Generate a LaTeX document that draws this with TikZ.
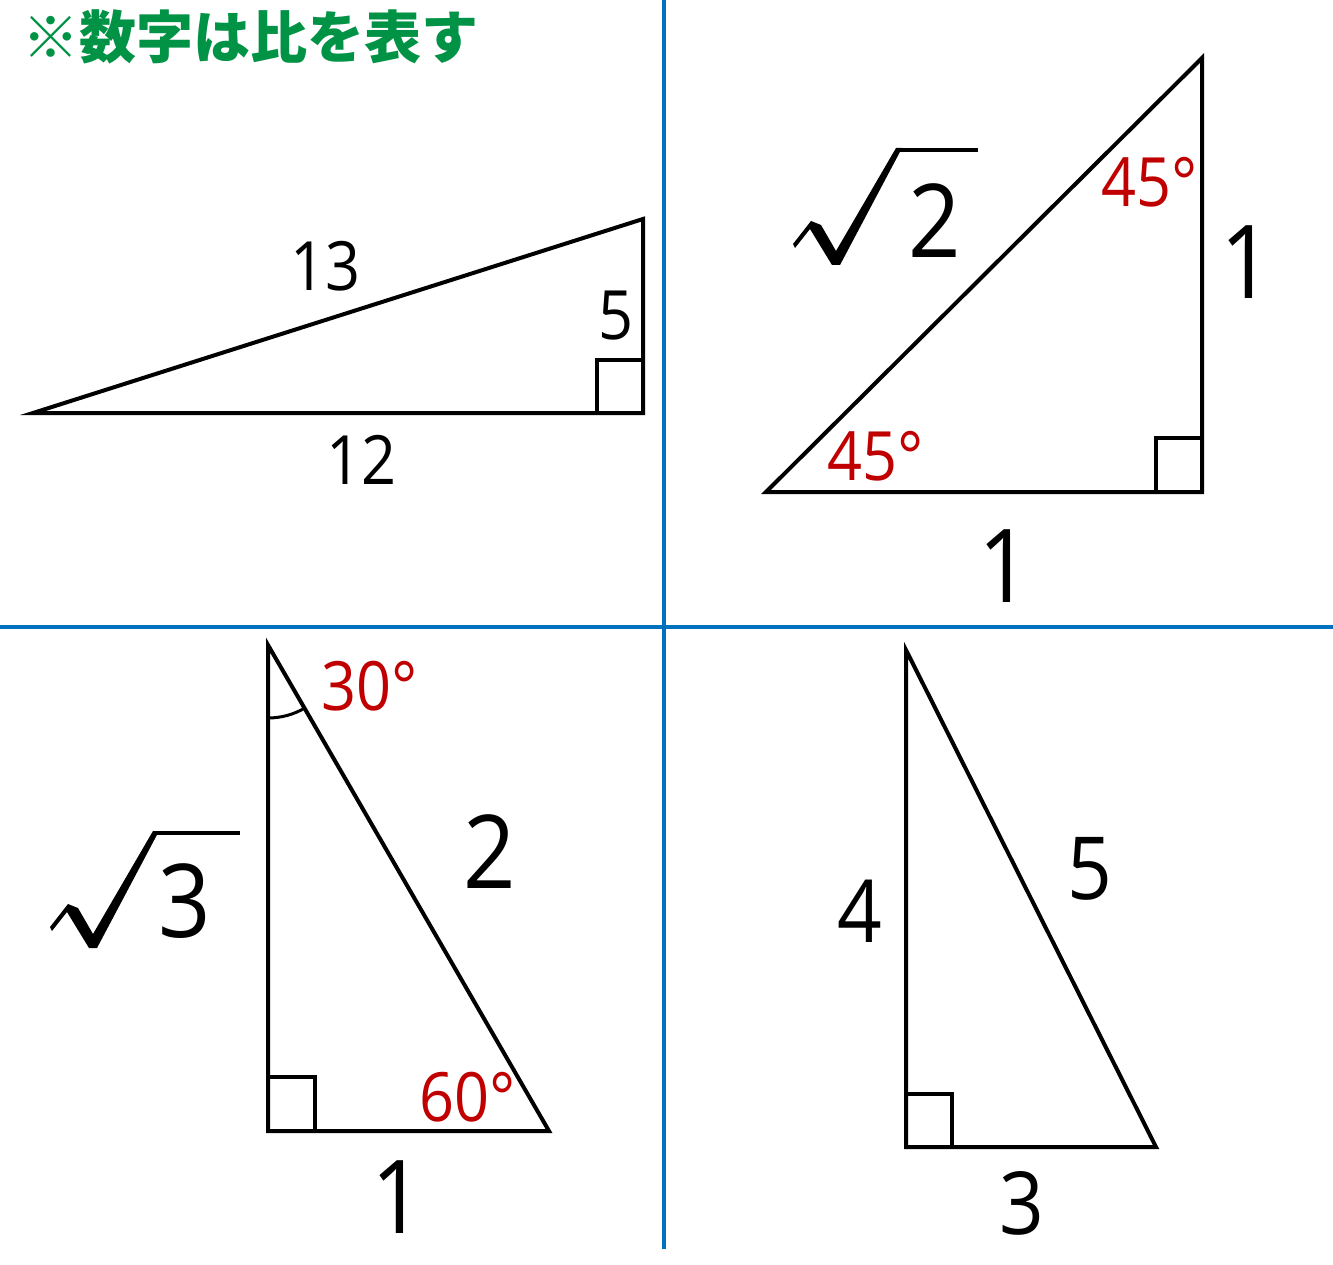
\documentclass[tikz,border=0pt]{standalone}
\usepackage{fontspec}
\setmainfont{Open Sans}[FakeStretch=0.9]
\newfontfamily\cjk{Noto Sans CJK JP}
\definecolor{lineblue}{RGB}{0,113,188}
\definecolor{degred}{RGB}{192,0,0}
\definecolor{titlegreen}{RGB}{0,146,69}
\newcommand\myroot[2]{%
  \begin{scope}[shift={#1}]
    \fill (-42,-21) -- (-24,-44) -- (-14,-40) -- (1,-14) -- (61,-117) -- (67,-117)
      -- (5,0) -- (-3,0) -- (-25,-36) -- (-40,-17) -- cycle;
    \fill (61,-117) rectangle (#2,-113);
  \end{scope}}
\begin{document}
\begin{tikzpicture}[x=1pt,y=-1pt,
  tri/.style={line width=4pt, line join=miter},
  sq/.style={line width=3.5pt},
  sep/.style={draw=lineblue, line width=3.5pt},
  big/.style={inner sep=0pt, font=\fontsize{102}{102}\selectfont},
  mid/.style={inner sep=0pt, font=\fontsize{87}{87}\selectfont},
  small/.style={inner sep=0pt, font=\fontsize{68}{68}\selectfont},
  deg/.style={inner sep=0pt, text=degred, font=\fontsize{68}{68}\selectfont}]
\useasboundingbox (0,0) rectangle (1333,1265);
\fill[white] (0,0) rectangle (1333,1265);

% separators
\coordinate (vt) at (664,0);
\coordinate (vb) at (664,1249);
\coordinate (hl) at (0,627);
\coordinate (hr) at (1333,627);
\draw[sep] (vt) -- (vb);
\draw[sep] (hl) -- (hr);

% title
\node[anchor=base west, inner sep=0pt, text=titlegreen,
  font=\cjk\bfseries\fontsize{57}{57}\selectfont] (title) at (22,59) {※数字は比を表す};

% triangle 1 : 5-12-13
\coordinate (a1) at (33,413);
\coordinate (b1) at (643,413);
\coordinate (c1) at (643,219);
\draw[tri] (a1) -- (b1) -- (c1) -- cycle;
\draw[sq] (597,413) |- (643,360);
\node[small] (t1h) at (325,266) {13};
\node[small] (t1v) at (616,316) {5};
\node[small] (t1b) at (361,460) {12};

% triangle 2 : 1-1-sqrt2
\coordinate (a2) at (766,492);
\coordinate (b2) at (1202,492);
\coordinate (c2) at (1202,58);
\draw[tri] (a2) -- (b2) -- (c2) -- cycle;
\draw[sq] (1156,492) |- (1202,438);
\node[deg] (t2d1) at (1150,182) {45°};
\node[deg] (t2d2) at (876,456) {45°};
\node[big] (t2v) at (1247,262) {1};
\node[big] (t2b) at (1005,566) {1};
\myroot{(835,265)}{143}
\node[big] (t2h) at (935,221) {2};

% triangle 3 : 1-2-sqrt3
\coordinate (a3) at (268,645);
\coordinate (b3) at (268,1131);
\coordinate (c3) at (549,1131);
\draw[tri] (a3) -- (b3) -- (c3) -- cycle;
\draw[sq] (268,1077) -| (315,1131);
\draw[line width=3pt] (268,718) arc[start angle=90, end angle=60, radius=73];
\node[deg] (t3d1) at (370,686) {30°};
\node[deg] (t3d2) at (468,1097) {60°};
\node[big] (t3h) at (490,852) {2};
\node[big] (t3b) at (398,1197) {1};
\myroot{(92,948)}{148}
\node[big] (t3v) at (185,901) {3};

% triangle 4 : 3-4-5
\coordinate (a4) at (906,650);
\coordinate (b4) at (906,1147);
\coordinate (c4) at (1156,1147);
\draw[tri] (a4) -- (b4) -- (c4) -- cycle;
\draw[sq] (906,1094) -| (952,1147);
\node[mid] (t4v) at (860,911) {4};
\node[mid] (t4h) at (1090,869) {5};
\node[mid] (t4b) at (1022,1203) {3};
\end{tikzpicture}
\end{document}
